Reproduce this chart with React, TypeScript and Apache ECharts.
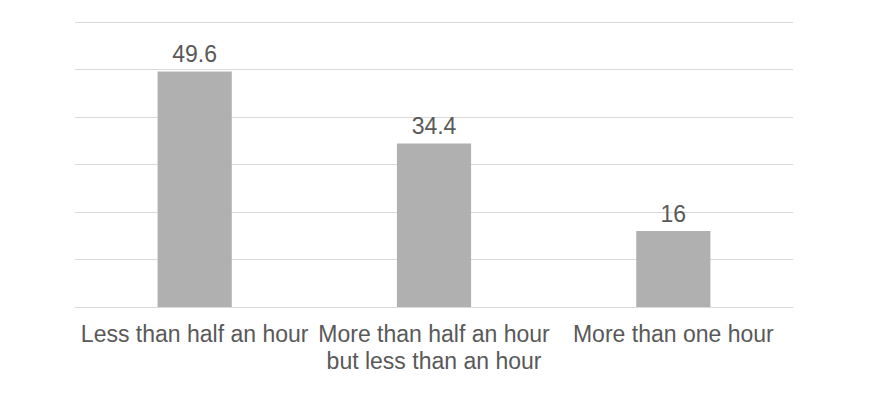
import React, { useEffect, useRef } from "react";
import * as echarts from "echarts";

const categories = [
  "Less than half an hour",
  "More than half an hour\nbut less than an hour",
  "More than one hour",
];
const values = [49.6, 34.4, 16];

export default function App() {
  const ref = useRef<HTMLDivElement>(null);
  useEffect(() => {
    if (!ref.current) return;
    const chart = echarts.init(ref.current, null, { renderer: "svg" });
    chart.setOption({
      animation: false,
      backgroundColor: "#ffffff",
      textStyle: { fontFamily: "Liberation Sans, Arial, sans-serif" },
      grid: { left: 75, right: 103, top: 22, bottom: 99 },
      xAxis: {
        type: "category",
        data: categories,
        axisLine: { lineStyle: { color: "#d9d9d9", width: 1 } },
        axisTick: { show: false },
        axisLabel: {
          color: "#595959",
          fontSize: 23,
          lineHeight: 27,
          margin: 13,
          interval: 0,
          align: "center",
        },
      },
      yAxis: {
        type: "value",
        min: 0,
        max: 60,
        interval: 10,
        axisLabel: { show: false },
        axisLine: { show: false },
        axisTick: { show: false },
        splitLine: { lineStyle: { color: "#d9d9d9", width: 1 } },
      },
      series: [
        {
          type: "bar",
          data: values,
          barWidth: "31%",
          itemStyle: { color: "#b0b0b0" },
          label: {
            show: true,
            position: "top",
            distance: 6,
            color: "#595959",
            fontSize: 23,
            fontFamily: "Liberation Sans, Arial, sans-serif",
          },
        },
      ],
    });
    return () => chart.dispose();
  }, []);
  return (
    <div
      ref={ref}
      style={{ position: "absolute", left: 0, top: 0, width: 896, height: 406 }}
    />
  );
}
